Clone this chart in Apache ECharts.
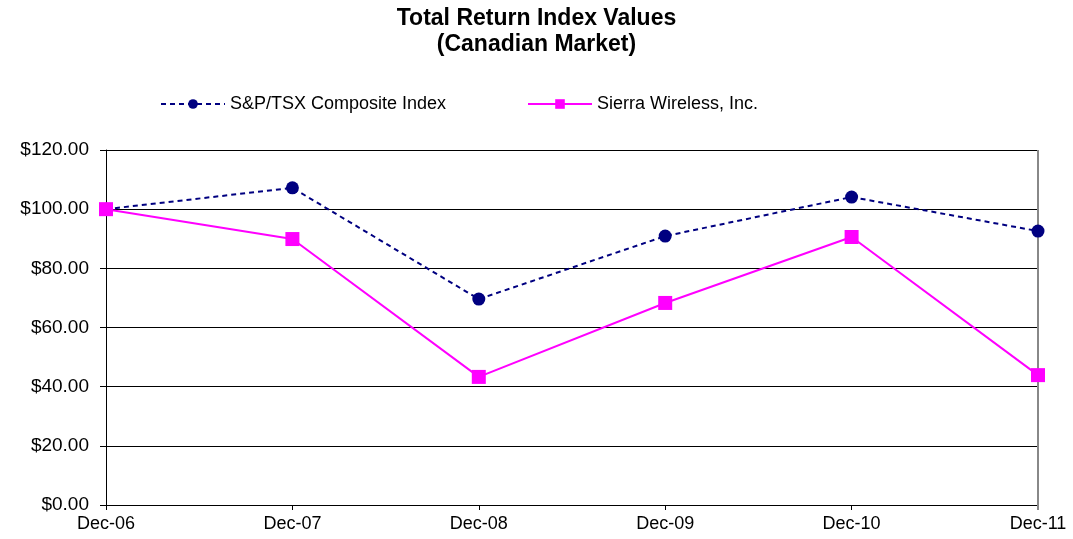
<!DOCTYPE html>
<html>
<head>
<meta charset="utf-8"/>
<title>Total Return Index Values</title>
<script src="https://cdn.jsdelivr.net/npm/echarts@6/dist/echarts.min.js"></script>
<style>
    html, body { margin: 0; padding: 0; background: #fff; }
    #main { width: 1073px; height: 539px; }
</style>
</head>
<body>
<div id="main"></div>
<script>
    // data
    var categories = ['Dec-06', 'Dec-07', 'Dec-08', 'Dec-09', 'Dec-10', 'Dec-11'];
    var tsxValues = [100, 107.2, 69.6, 90.9, 104.1, 92.6];
    var sierraValues = [100, 89.9, 43.3, 68.3, 90.6, 43.9];
    var yTicks = [0, 20, 40, 60, 80, 100, 120];

    var font = '"Liberation Sans", Arial, sans-serif';
    var chart = echarts.init(document.getElementById('main'));

    var legendText = { fontFamily: font, fontSize: 18, color: '#000' };

    var option = {
        animation: false,
        title: {
            text: 'Total Return Index Values\n(Canadian Market)',
            left: 'center',
            top: 1,
            textStyle: {
                fontFamily: font,
                fontSize: 23,
                fontWeight: 'bold',
                color: '#000',
                lineHeight: 26
            }
        },
        legend: [{
            top: 90,
            left: 155,
            itemWidth: 64,
            itemHeight: 12,
            textStyle: legendText,
            data: ['S&P/TSX Composite Index']
        }, {
            top: 90,
            left: 522,
            itemWidth: 64,
            itemHeight: 12,
            textStyle: legendText,
            data: ['Sierra Wireless, Inc.']
        }],
        grid: { left: 106, right: 35, top: 150, bottom: 34 },
        xAxis: {
            type: 'category',
            data: categories,
            boundaryGap: false,
            axisLine: { lineStyle: { color: '#000', width: 1 } },
            axisTick: { show: true, length: 5, lineStyle: { color: '#000' } },
            axisLabel: { fontFamily: font, fontSize: 18, color: '#000', margin: 10 },
            splitLine: { show: false }
        },
        yAxis: [{
            type: 'value',
            min: yTicks[0],
            max: yTicks[yTicks.length - 1],
            interval: 20,
            axisLine: { show: true, lineStyle: { color: '#000', width: 1 } },
            axisTick: { show: true, length: 6, lineStyle: { color: '#000' } },
            axisLabel: {
                fontFamily: font, fontSize: 19, color: '#000', margin: 17,
                formatter: function (v) { return '$' + v.toFixed(2); }
            },
            splitLine: { show: true, lineStyle: { color: '#000', width: 1 } }
        }],
        series: [{
            name: 'S&P/TSX Composite Index',
            type: 'line',
            data: tsxValues,
            symbol: 'circle',
            symbolSize: 13,
            color: '#000080',
            lineStyle: { color: '#000080', width: 2, type: [5, 4] },
            itemStyle: { color: '#000080' },
            z: 3
        }, {
            name: 'Sierra Wireless, Inc.',
            type: 'line',
            data: sierraValues,
            symbol: 'rect',
            symbolSize: 14,
            color: '#ff00ff',
            lineStyle: { color: '#ff00ff', width: 2 },
            itemStyle: { color: '#ff00ff' },
            z: 4
        }],
        graphic: [{
            // right border of plot area (grey)
            type: 'line',
            shape: { x1: 1038, y1: 150, x2: 1038, y2: 510 },
            style: { stroke: '#888', lineWidth: 2 },
            z: 1
        }]
    };
    chart.setOption(option);
</script>
</body>
</html>
